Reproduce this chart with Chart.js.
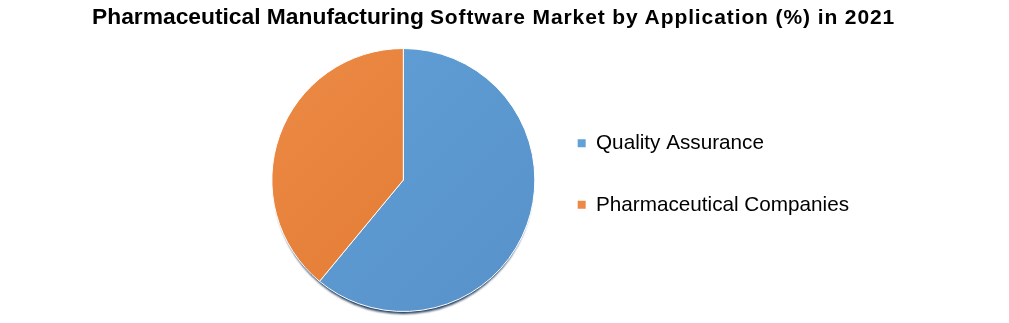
<!DOCTYPE html>
<html>
<head>
<meta charset="utf-8">
<script src="https://cdn.jsdelivr.net/npm/chart.js@4/dist/chart.umd.min.js"></script>
<style>
  html, body { margin: 0; padding: 0; background: #fff; }
  #wrap { position: relative; width: 1009px; height: 323px; }
  #title { position: absolute; left: 92px; top: 3px; white-space: nowrap;
           font-family: "Liberation Sans", Arial, sans-serif; font-weight: bold; color: #000; }
  #title .a { font-size: 22.8px; }
  #title .b { font-size: 21px; letter-spacing: 0.9px; margin-left: 6px; }
  canvas { position: absolute; left: 0; top: 0; }
</style>
</head>
<body>
<div id="wrap">
  <canvas id="myPieChart" width="1009" height="323"></canvas>
  <div id="title"><span class="a">Pharmaceutical Manufacturing</span><span class="b">Software Market by Application (%) in 2021</span></div>
</div>
<script>
const categories = ["Quality Assurance", "Pharmaceutical Companies"];
const shares = [61, 39];
const colors = [["#62a0d8", "#5791c9"], ["#ec8a45", "#e0772f"]];

const ctxp = document.querySelector("#myPieChart").getContext("2d");

// dark rim under the pie, like the original office chart
const pieShadow = {
  id: "pieShadow",
  beforeDatasetsDraw(chart) {
    const arc = chart.getDatasetMeta(0).data[0];
    if (!arc) return;
    const c = chart.ctx;
    c.save();
    c.fillStyle = "#223d5e";
    c.filter = "blur(0.8px)";
    c.beginPath();
    c.arc(arc.x, arc.y + 4.5, arc.outerRadius - 2, 0, Math.PI * 2);
    c.fill();
    c.restore();
  },
};

// legend sits a bit above the pie centre in the original
const legendLift = {
  id: "legendLift",
  afterLayout(chart) {
    chart.legend.top -= 6;
    chart.legend.bottom -= 6;
  },
};

const sliceFill = (context) => {
  const chart = context.chart;
  const area = chart.chartArea;
  const pair = colors[context.dataIndex];
  if (!area) return pair[0];
  const g = chart.ctx.createLinearGradient(area.left, area.top, area.right, area.bottom);
  g.addColorStop(0, pair[0]);
  g.addColorStop(1, pair[1]);
  return g;
};

const data = {
  labels: categories,
  datasets: [
    {
      data: shares,
      backgroundColor: sliceFill,
      borderColor: "#ffffff",
      borderWidth: 1,
    },
  ],
};

const config = {
  type: "pie",
  data: data,
  plugins: [pieShadow, legendLift],
  options: {
    responsive: false,
    animation: false,
    layout: {
      padding: { left: 270, right: 150, top: 48, bottom: 11 },
    },
    plugins: {
      legend: {
        position: "right",
        align: "center",
        maxWidth: 420,
        labels: {
          boxWidth: 8,
          boxHeight: 8,
          padding: 41,
          color: "#000",
          font: { family: "'Liberation Sans', Arial, sans-serif", size: 20.7 },
          generateLabels: (chart) =>
            categories.map((name, i) => ({
              text: name,
              fillStyle: colors[i][0],
              strokeStyle: colors[i][0],
              lineWidth: 0,
              index: i,
            })),
        },
      },
      title: { display: false },
      tooltip: { enabled: false },
    },
  },
};

const myChart = new Chart(ctxp, config);
</script>
</body>
</html>
